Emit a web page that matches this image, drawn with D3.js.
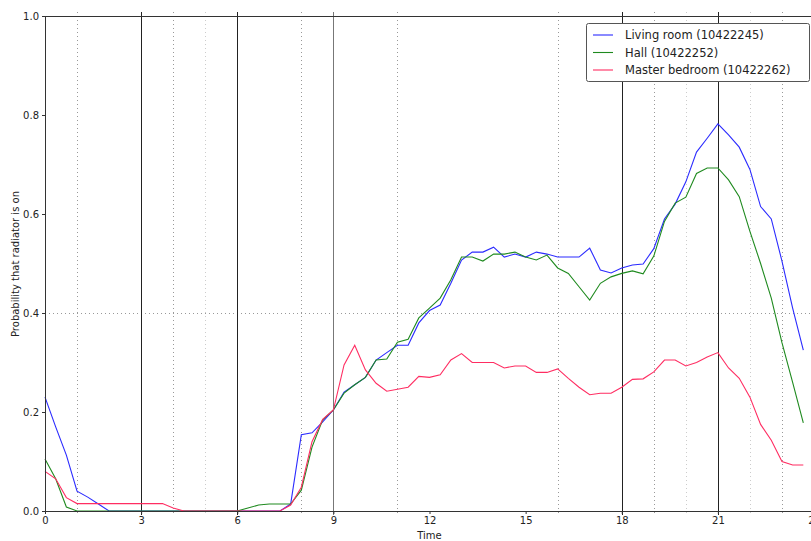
<!DOCTYPE html>
<html lang="en">
<head>
<meta charset="UTF-8">
<title>Radiator probability</title>
<script src="https://d3js.org/d3.v7.min.js"></script>
<style>
  body { margin: 0; background: #fff; }
  svg { display: block; font-family: "DejaVu Sans", sans-serif; }
</style>
</head>
<body>
<div id="chart"></div>
<script>
// time of day, one sample every 20 minutes
var hours = d3.range(72).map(function(i) { return i / 3; });

var livingRoom = [0.23, 0.17, 0.113, 0.04, 0.028, 0.014, 0,
  0, 0, 0, 0, 0, 0, 0, 0, 0, 0, 0, 0, 0, 0, 0, 0,
  0.014, 0.154, 0.158, 0.18, 0.204,
  0.24, 0.255, 0.27, 0.305, 0.32, 0.335, 0.335, 0.38, 0.405, 0.416, 0.46, 0.507,
  0.523, 0.523, 0.533, 0.513, 0.519, 0.513, 0.523, 0.519, 0.513, 0.513, 0.513, 0.531,
  0.487, 0.481, 0.491, 0.497, 0.499, 0.53, 0.59, 0.62, 0.665, 0.725, 0.753, 0.782,
  0.76, 0.735, 0.69, 0.615, 0.59, 0.505, 0.41, 0.325];

var hall = [0.105, 0.065, 0.008,
  0, 0, 0, 0, 0, 0, 0, 0, 0, 0, 0, 0, 0, 0, 0, 0,
  0.006, 0.012, 0.014, 0.014, 0.014, 0.042, 0.129, 0.184, 0.204,
  0.238, 0.255, 0.27, 0.305, 0.307, 0.341, 0.347, 0.39, 0.41, 0.43, 0.467, 0.513,
  0.513, 0.505, 0.519, 0.519, 0.523, 0.513, 0.507, 0.517, 0.491, 0.48, 0.453, 0.426,
  0.46, 0.473, 0.48, 0.485, 0.479, 0.515, 0.585, 0.622, 0.634, 0.682, 0.693, 0.693,
  0.669, 0.635, 0.565, 0.5, 0.43, 0.34, 0.26, 0.178];

var masterBedroom = [0.08, 0.065, 0.027,
  0.015, 0.015, 0.015, 0.015, 0.015, 0.015, 0.015, 0.015, 0.015,
  0.006, 0, 0, 0, 0, 0, 0, 0, 0, 0, 0,
  0.012, 0.048, 0.14, 0.185, 0.204,
  0.295, 0.335, 0.285, 0.258, 0.242, 0.246, 0.25, 0.272, 0.27, 0.275, 0.305, 0.318,
  0.3, 0.3, 0.3, 0.289, 0.293, 0.293, 0.28, 0.28, 0.287, 0.268, 0.25, 0.235,
  0.238, 0.238, 0.25, 0.266, 0.267, 0.281, 0.305, 0.305, 0.293, 0.3, 0.311, 0.32,
  0.289, 0.268, 0.23, 0.175, 0.143, 0.1, 0.093, 0.093];

var seriesNames = ["Living room (10422245)", "Hall (10422252)", "Master bedroom (10422262)"];
var seriesColors = ["#2b2bff", "#1f8a1f", "#ff2d62"];

var xTicks = [0, 3, 6, 9, 12, 15, 18, 21, 24];
var yTicks = [0, 0.2, 0.4, 0.6, 0.8, 1.0];

// vertical marker lines
var solidLines = [3, 6, 18, 21];
var greyLines = [9];
var dottedLines = [1, 4, 8, 11, 16, 19, 23];
var faintLines = [5, 20, 22];
var hLines = [0.4];

var width = 811, height = 541;

var x = d3.scaleLinear().domain([0, 24]).range([45, 814]);
var y = d3.scaleLinear().domain([0, 1]).range([511, 16]);

var svg = d3.select("#chart").append("svg")
    .attr("width", width)
    .attr("height", height);

// horizontal dotted line
svg.selectAll(".hline")
    .data(hLines)
    .enter()
    .append("line")
    .attr("x1", x(0)).attr("x2", x(24))
    .attr("y1", function(d) { return Math.round(y(d)) + 0.5; })
    .attr("y2", function(d) { return Math.round(y(d)) + 0.5; })
    .attr("stroke", "#999")
    .attr("stroke-dasharray", "1,3");

function vlines(data, color, dash, cls) {
    svg.selectAll("." + cls)
        .data(data)
        .enter()
        .append("line")
        .attr("class", cls)
        .attr("x1", function(d) { return Math.round(x(d)) + 0.5; })
        .attr("x2", function(d) { return Math.round(x(d)) + 0.5; })
        .attr("y1", 12)
        .attr("y2", 515)
        .attr("stroke", color)
        .attr("stroke-dasharray", dash);
}
vlines(faintLines, "#ccc", "1,3", "faint");
vlines(dottedLines, "#999", "1,3", "dotted");
vlines(greyLines, "#777", null, "grey");
vlines(solidLines, "#222", null, "solid");

// series lines
var allSeries = [livingRoom, hall, masterBedroom];
var line = d3.line()
    .x(function(d, i) { return x(hours[i]); })
    .y(function(d) { return y(d); });

svg.selectAll(".series")
    .data(allSeries)
    .enter()
    .append("path")
    .attr("class", "series")
    .attr("d", function(d) { return line(d); })
    .attr("fill", "none")
    .attr("stroke", function(d, i) { return seriesColors[i]; })
    .attr("stroke-width", 1.1);

// axes
var xAxis = svg.append("g")
    .attr("transform", "translate(0," + y(0) + ")")
    .call(d3.axisBottom(x).tickValues(xTicks).tickFormat(d3.format("d")).tickSize(3).tickPadding(3));
var yAxis = svg.append("g")
    .attr("transform", "translate(" + x(0) + ",0)")
    .call(d3.axisLeft(y).tickValues(yTicks).tickFormat(d3.format(".1f")).tickSize(3).tickPadding(3));

[xAxis, yAxis].forEach(function(a) {
    a.select(".domain").remove();
    a.selectAll("text").attr("font-size", "10px").attr("fill", "#222").attr("font-family", "DejaVu Sans");
    a.selectAll("line").attr("stroke", "#333");
});

// frame
svg.append("rect")
    .attr("x", Math.round(x(0)) + 0.5)
    .attr("y", Math.round(y(1)) + 0.5)
    .attr("width", x(24) - x(0))
    .attr("height", y(0) - y(1))
    .attr("fill", "none")
    .attr("stroke", "#333");

// labels
svg.append("text")
    .attr("x", x(12))
    .attr("y", 539)
    .attr("text-anchor", "middle")
    .attr("font-size", "10px")
    .attr("fill", "#222")
    .text("Time");

svg.append("text")
    .attr("transform", "translate(19," + 264 + ") rotate(-90)")
    .attr("text-anchor", "middle")
    .attr("font-size", "10px")
    .attr("fill", "#222")
    .text("Probability that radiator is on");

// legend
var legend = svg.append("g").attr("transform", "translate(586,23)");
legend.append("rect")
    .attr("x", 0.5).attr("y", 0.5)
    .attr("width", 223).attr("height", 58)
    .attr("rx", 2)
    .attr("fill", "#fff")
    .attr("stroke", "#555");

var rows = legend.selectAll(".row")
    .data(seriesNames)
    .enter()
    .append("g")
    .attr("transform", function(d, i) { return "translate(0," + (12 + i * 17.5) + ")"; });

rows.append("line")
    .attr("x1", 7).attr("x2", 27)
    .attr("y1", 0).attr("y2", 0)
    .attr("stroke", function(d, i) { return seriesColors[i]; })
    .attr("stroke-width", 1.1);

rows.append("text")
    .attr("x", 39)
    .attr("y", 0)
    .attr("dy", "0.35em")
    .attr("font-size", "11.5px")
    .attr("fill", "#222")
    .text(function(d) { return d; });
</script>
</body>
</html>
